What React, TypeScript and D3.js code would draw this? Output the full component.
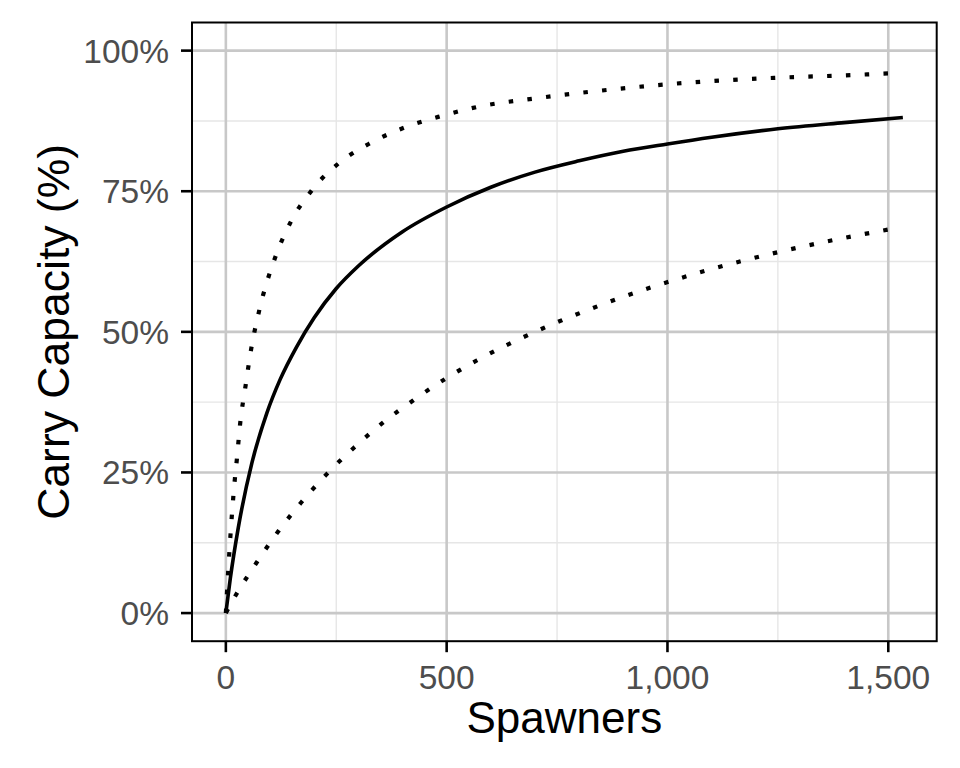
import React from "react";
import * as d3 from "d3";

// Spawners (x) and carry capacity fraction (y)
const medianX = [0, 10, 28, 59, 93, 123, 160, 200, 250, 300, 400, 500, 600, 700, 800, 900, 1000, 1100, 1250, 1400, 1533];
const medianY = [0, 0.061, 0.151, 0.267, 0.356, 0.4155, 0.473, 0.525, 0.577, 0.617, 0.678, 0.722, 0.757, 0.784, 0.804, 0.821, 0.834, 0.846, 0.861, 0.872, 0.881];

const upperX = [0, 5, 10, 15, 20, 25, 32, 45, 57, 75, 113, 148, 195, 256, 328, 407, 489, 570, 700, 850, 1082, 1255, 1400, 1515];
const upperY = [0, 0.07, 0.133, 0.188, 0.235, 0.274, 0.334, 0.406, 0.468, 0.536, 0.635, 0.697, 0.752, 0.8, 0.836, 0.864, 0.884, 0.9, 0.915, 0.929, 0.945, 0.952, 0.956, 0.96];

const lowerX = [0, 23, 69, 118, 171, 229, 290, 355, 424, 496, 569, 700, 850, 1088, 1255, 1400, 1515];
const lowerY = [0, 0.0325, 0.089, 0.1445, 0.197, 0.2475, 0.294, 0.338, 0.378, 0.416, 0.4495, 0.5, 0.548, 0.609, 0.6425, 0.667, 0.684];

const xTicks = [0, 500, 1000, 1500];
const xMinor = [250, 750, 1250];
const yTicks = [0, 0.25, 0.5, 0.75, 1];
const yMinor = [0.125, 0.375, 0.625, 0.875];

const xTitle = "Spawners";
const yTitle = "Carry Capacity (%)";

const W = 960;
const H = 768;
const panel = { left: 192, right: 936.7, top: 22.5, bottom: 641.2 };
const xMax = 1533;

export default function App() {
  const x = d3
    .scaleLinear()
    .domain([-0.05 * xMax, 1.05 * xMax])
    .range([panel.left, panel.right]);
  const y = d3.scaleLinear().domain([-0.05, 1.05]).range([panel.bottom, panel.top]);

  const line = d3
    .line<[number, number]>()
    .x((d) => x(d[0]))
    .y((d) => y(d[1]))
    .curve(d3.curveMonotoneX);

  const zip = (a: number[], b: number[]) => a.map((v, i) => [v, b[i]] as [number, number]);

  const fmtX = d3.format(",");
  const fmtY = (v: number) => `${Math.round(v * 100)}%`;
  const font = "'Liberation Sans', Arial, Helvetica, sans-serif";

  return (
    <svg
      width={W}
      height={H}
      style={{ position: "absolute", left: 0, top: 0, background: "#fff" }}
      fontFamily={font}
    >
      <rect x={0} y={0} width={W} height={H} fill="#fff" />
      {/* minor grid */}
      {xMinor.map((v) => (
        <line key={"xm" + v} x1={x(v)} x2={x(v)} y1={panel.top} y2={panel.bottom} stroke="#e6e6e6" strokeWidth={1.4} />
      ))}
      {yMinor.map((v) => (
        <line key={"ym" + v} x1={panel.left} x2={panel.right} y1={y(v)} y2={y(v)} stroke="#e6e6e6" strokeWidth={1.4} />
      ))}
      {/* major grid */}
      {xTicks.map((v) => (
        <line key={"xg" + v} x1={x(v)} x2={x(v)} y1={panel.top} y2={panel.bottom} stroke="#c8c8c8" strokeWidth={2.6} />
      ))}
      {yTicks.map((v) => (
        <line key={"yg" + v} x1={panel.left} x2={panel.right} y1={y(v)} y2={y(v)} stroke="#c8c8c8" strokeWidth={2.6} />
      ))}

      {/* curves */}
      <path d={line(zip(upperX, upperY)) || ""} fill="none" stroke="#000" strokeWidth={4.2} strokeDasharray="4.5 14.3" />
      <path d={line(zip(lowerX, lowerY)) || ""} fill="none" stroke="#000" strokeWidth={4.2} strokeDasharray="4.5 14.3" />
      <path d={line(zip(medianX, medianY)) || ""} fill="none" stroke="#000" strokeWidth={3.6} strokeLinejoin="round" />

      {/* panel border */}
      <rect
        x={panel.left}
        y={panel.top}
        width={panel.right - panel.left}
        height={panel.bottom - panel.top}
        fill="none"
        stroke="#000"
        strokeWidth={2}
      />

      {/* axis ticks */}
      {xTicks.map((v) => (
        <g key={"xt" + v}>
          <line x1={x(v)} x2={x(v)} y1={panel.bottom} y2={panel.bottom + 11} stroke="#000" strokeWidth={2.6} />
          <text x={x(v)} y={689} textAnchor="middle" fontSize={33.5} fill="#4d4d4d">
            {fmtX(v)}
          </text>
        </g>
      ))}
      {yTicks.map((v) => (
        <g key={"yt" + v}>
          <line x1={panel.left - 11} x2={panel.left} y1={y(v)} y2={y(v)} stroke="#000" strokeWidth={2.6} />
          <text x={169} y={y(v) + 12} textAnchor="end" fontSize={33.5} fill="#4d4d4d">
            {fmtY(v)}
          </text>
        </g>
      ))}

      {/* axis titles */}
      <text x={(panel.left + panel.right) / 2} y={733} textAnchor="middle" fontSize={44} fill="#000">
        {xTitle}
      </text>
      <text
        transform={`translate(69, ${(panel.top + panel.bottom) / 2}) rotate(-90)`}
        textAnchor="middle"
        fontSize={44.5}
        fill="#000"
      >
        {yTitle}
      </text>
    </svg>
  );
}
